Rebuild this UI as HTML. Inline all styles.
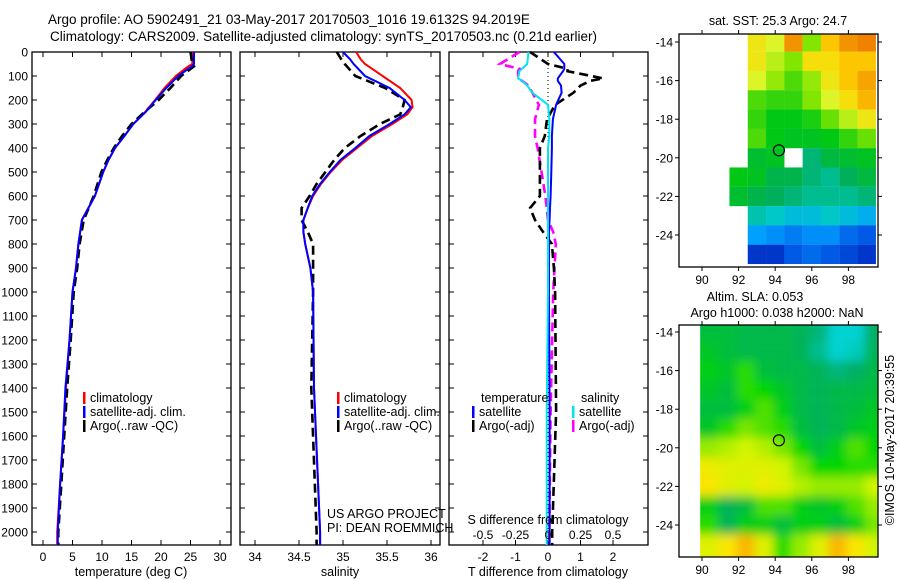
<!DOCTYPE html>
<html><head><meta charset="utf-8"><style>
html,body{margin:0;padding:0;background:#fff;}
svg{display:block;font-family:"Liberation Sans",sans-serif;}
</style></head><body>
<svg id="fig" width="900" height="580" viewBox="0 0 900 580">
<text x="48" y="24" font-size="13.5">Argo profile: AO 5902491_21 03-May-2017 20170503_1016 19.6132S 94.2019E</text>
<text x="50" y="41" font-size="13.5">Climatology: CARS2009. Satellite-adjusted climatology: synTS_20170503.nc (0.21d earlier)</text>
<g id="root"></g>
</svg>
<script>
// ---------- data ----------
const tDepth = [0,50,60,100,150,200,250,300,350,400,450,500,600,700,800,900,1000,1200,1400,1600,1800,2000,2054];
const tClim  = [25.3,25.3,24.6,22.5,20.6,19.0,17.3,15.3,13.8,12.2,11.1,10.2,8.8,6.6,6.0,5.6,5.0,4.5,3.9,3.4,2.9,2.4,2.4];
const tSat   = [25.6,25.6,25.2,22.9,20.9,19.1,17.4,15.3,13.8,12.2,11.1,10.2,8.8,6.6,6.0,5.6,5.0,4.5,3.8,3.4,2.9,2.5,2.5];
const tArgo  = [25.0,25.3,25.6,23.4,21.6,19.6,17.2,15.0,13.4,12.0,10.9,9.9,8.6,6.9,6.2,5.8,5.2,4.7,4.1,3.6,3.1,2.6,2.6];

const sDepth = [0,30,50,100,150,200,230,260,300,350,400,450,500,550,600,650,700,750,800,900,1000,1400,2000,2054];
const sClim  = [35.15,35.2,35.25,35.45,35.65,35.78,35.79,35.73,35.56,35.33,35.16,34.99,34.86,34.75,34.66,34.6,34.55,34.55,34.57,34.63,34.66,34.67,34.74,34.74];
const sSat   = [35.0,35.08,35.12,35.25,35.53,35.7,35.77,35.7,35.53,35.3,35.14,34.97,34.85,34.74,34.65,34.6,34.55,34.55,34.57,34.63,34.66,34.67,34.74,34.74];
const sArgo  = [34.93,34.98,35.02,35.14,35.48,35.7,35.68,35.65,35.42,35.2,35.02,34.9,34.8,34.7,34.62,34.53,34.53,34.6,34.66,34.66,34.66,34.64,34.7,34.7];

const dDepth   = [0,50,70,80,110,120,140,170,220,280,350,400,500,600,650,700,750,800,900,1000,1500,2000,2054];
const dTSat    = [0.18,0.5,0.5,0.46,0.3,0.3,0.4,0.42,0.25,0.15,0.12,0.12,0.1,0.08,0.06,0.05,0.03,0.03,0.03,0.03,0.05,0.05,0.05];
const dTArgo   = [-0.55,0.0,0.6,0.6,1.7,1.3,1.0,0.78,0.22,-0.03,-0.1,-0.25,-0.25,-0.25,-0.55,-0.4,-0.15,0.12,0.18,0.22,0.25,0.13,0.13];
const dSArgo   = [-0.22,-0.37,-0.22,-0.23,-0.23,-0.2,-0.15,-0.12,-0.07,-0.1,-0.1,-0.08,-0.05,-0.02,-0.01,0.0,0.04,0.06,0.05,0.04,0.02,0.01,0.01];
const dSSat    = [-0.15,-0.16,-0.2,-0.22,-0.23,-0.2,-0.16,-0.12,0.0,0.01,0.01,0.0,0.0,0.0,0.0,0.0,0.0,0.0,0.0,0.0,-0.01,-0.01,-0.01];

const depthTicks = [0,100,200,300,400,500,600,700,800,900,1000,1100,1200,1300,1400,1500,1600,1700,1800,1900,2000];
const tTicks = [0,5,10,15,20,25,30];
const sTicks = [34,34.5,35,35.5,36];
const sTickLabels = ["34","34.5","35","35.5","36"];
const dTTicks = [-2,-1,0,1,2];
const dSTicks = [-0.5,-0.25,0,0.25,0.5];
const dSTickLabels = ["-0.5","-0.25","0","0.25","0.5"];

const lonTicks = [90,92,94,96,98];
const latTicks = [-14,-16,-18,-20,-22,-24];
const sstLats = [-14,-15,-16,-17,-18,-19,-20,-21,-22,-23,-24,-25];
const sstLons = [89,90,91,92,93,94,95,96,97,98,99];
const sstGrid = [
 [null,null,null,null,25.2,25.0,25.8,24.5,25.5,25.8,25.9],
 [null,null,null,null,25.2,24.8,24.5,25.3,25.3,25.5,25.5],
 [null,null,null,null,25.0,24.6,24.3,24.6,25.2,25.5,25.7],
 [null,null,null,null,24.3,24.2,24.2,24.5,25.0,25.3,25.6],
 [null,null,null,null,24.2,24.0,24.0,24.1,24.4,24.8,25.2],
 [null,null,null,null,24.3,24.0,23.9,23.9,24.0,24.2,24.4],
 [null,null,null,null,23.8,23.9,null,23.4,23.7,23.8,23.9],
 [null,null,null,24.0,23.9,23.6,23.6,23.4,23.3,23.5,23.7],
 [null,null,null,23.8,23.6,23.5,23.4,23.3,23.3,23.3,23.4],
 [null,null,null,null,23.2,23.1,23.0,23.0,23.1,23.0,22.9],
 [null,null,null,null,22.8,22.7,22.6,22.7,22.7,22.5,22.4],
 [null,null,null,null,22.2,22.2,22.4,22.5,22.4,22.3,22.2]
];
const slaLons = [90.4,91.4,92.4,93.4,94.4,95.4,96.4,97.4,98.4,99.4];
const slaLats = [-14,-15,-16,-17,-18,-19,-20,-21,-22,-23,-24,-25];
const slaGrid = [
 [-0.02,-0.02,-0.03,-0.03,-0.03,-0.04,-0.06,-0.1,-0.1,-0.05],
 [-0.01,-0.02,-0.03,-0.03,-0.03,-0.04,-0.07,-0.1,-0.09,-0.04],
 [0,-0.01,0.02,-0.02,-0.03,-0.03,-0.04,-0.06,-0.05,-0.03],
 [-0.01,-0.02,0.02,0.01,-0.01,-0.03,-0.04,-0.03,-0.03,-0.02],
 [-0.02,-0.02,0.0,0.03,0.0,-0.03,-0.04,-0.03,-0.02,-0.01],
 [-0.01,0.02,0.04,0.03,0.02,-0.02,-0.04,-0.03,-0.01,0.0],
 [0.05,0.06,0.07,0.06,0.04,0.01,-0.02,0.0,0.03,0.01],
 [0.09,0.08,0.08,0.08,0.07,0.04,0.01,0.01,0.02,0.02],
 [0.1,0.08,0.07,0.09,0.08,0.06,0.05,0.05,0.05,0.07],
 [0.0,-0.04,-0.02,0.03,0.03,0.0,-0.01,0.0,0.03,0.05],
 [0.02,-0.04,0.0,0.0,-0.02,0.0,0.0,-0.02,0.0,0.04],
 [0.08,0.1,0.12,0.08,0.02,0.05,0.08,0.12,0.1,0.07]
];
const argoLon = 94.2019;
const argoLat = -19.6132;

// ---------- helpers ----------
const NS = "http://www.w3.org/2000/svg";
const root = document.getElementById("root");
function mk(tag, attrs, parent){ const e=document.createElementNS(NS,tag); for(const k in attrs) e.setAttribute(k,attrs[k]); (parent||root).appendChild(e); return e; }
function txt(x,y,s,size,anchor){ const e=mk("text",{x:x,y:y,"font-size":size,"text-anchor":anchor||"start"}); e.textContent=s; return e; }

const Y0=52, YB=545;
const yD = d => Y0 + 0.24*d;
const xT = t => 43 + 5.9*t;
const xS = s => 255 + 88*(s-34);
const xDT = t => 548 + 32.5*t;
const xDS = s => 548 + 130*s;

function frame(x0,x1,name){
  const r=mk("rect",{x:x0,y:Y0,width:x1-x0,height:YB-Y0,fill:"none",stroke:"#000","stroke-width":1.3});
  
  
  depthTicks.forEach(d=>{
    const t1=mk("line",{x1:x0,x2:x0+5,y1:yD(d),y2:yD(d),stroke:"#000"});
    
    
    const t2=mk("line",{x1:x1-5,x2:x1,y1:yD(d),y2:yD(d),stroke:"#000"});
    
    
  });
}
function xticks(vals,labels,fx,name){
  vals.forEach((v,i)=>{
    const a=mk("line",{x1:fx(v),x2:fx(v),y1:Y0,y2:Y0+5,stroke:"#000"});
    
    
    const b=mk("line",{x1:fx(v),x2:fx(v),y1:YB-5,y2:YB,stroke:"#000"});
    
    
    const l=txt(fx(v),561,labels?labels[i]:String(v),12,"middle");
    
    
  });
}
function series(vals,depths,fx,color,dash,name){
  const pts=vals.map((v,i)=>fx(v).toFixed(1)+","+yD(depths[i]).toFixed(1)).join(" ");
  const p=mk("polyline",{points:pts,fill:"none",stroke:color,"stroke-width":dash?2.6:2,"stroke-dasharray":dash?"9,5":"none"});
  
  
}
function legend(x,y,label,color,name){
  const b=mk("rect",{x:x,y:y-10,width:2.5,height:12,fill:color});
  
  
  const t=txt(x+7,y,label,12.5);
  
  
}

// ---------- panels ----------
frame(32,231,"temperature-panel");
frame(240,440,"salinity-panel");
frame(449,648,"difference-panel");
depthTicks.forEach(d=>{ const l=txt(28,yD(d)+4.5,String(d),12,"end");
  
   });
xticks(tTicks,null,xT,"temperature-axis");
xticks(sTicks,sTickLabels,xS,"salinity-axis");
xticks(dTTicks,null,xDT,"t-diff-axis");
{ const t=txt(131,576,"temperature (deg C)",12.5,"middle");   }
{ const t=txt(340,576,"salinity",12.5,"middle");   }
{ const t=txt(548,576,"T difference from climatology",12.5,"middle");   }

// zero dotted line
{ const z=mk("line",{x1:xDT(0),x2:xDT(0),y1:Y0,y2:YB,stroke:"#000","stroke-dasharray":"1,3"});   }

series(tClim,tDepth,xT,"#ff0000",false,"temperature-climatology-line");
series(tArgo,tDepth,xT,"#000",true,"temperature-argo-line");
series(tSat,tDepth,xT,"#0000ff",false,"temperature-satellite-line");
series(sClim,sDepth,xS,"#ff0000",false,"salinity-climatology-line");
series(sArgo,sDepth,xS,"#000",true,"salinity-argo-line");
series(sSat,sDepth,xS,"#0000ff",false,"salinity-satellite-line");
series(dSArgo,dDepth,xDS,"#ff00ff",true,"s-diff-argo-line");
series(dTArgo,dDepth,xDT,"#000",true,"t-diff-argo-line");
series(dTSat,dDepth,xDT,"#0000ff",false,"t-diff-satellite-line");
series(dSSat,dDepth,xDS,"#00e5ee",false,"s-diff-satellite-line");

legend(83,402,"climatology","#ff0000","legend-climatology");
legend(83,416,"satellite-adj. clim.","#0000ff","legend-satellite-adj");
legend(83,430,"Argo(..raw -QC)","#000","legend-argo");
legend(337,402,"climatology","#ff0000","legend2-climatology");
legend(337,416,"satellite-adj. clim.","#0000ff","legend2-satellite-adj");
legend(337,430,"Argo(..raw -QC)","#000","legend2-argo");
{ const t=txt(481,402,"temperature",12.5);   }
{ const t=txt(581,402,"salinity",12.5);   }
legend(472,416,"satellite","#0000ff","legend-t-satellite");
legend(472,430,"Argo(-adj)","#000","legend-t-argo");
legend(572,416,"satellite","#00e5ee","legend-s-satellite");
legend(572,430,"Argo(-adj)","#ff00ff","legend-s-argo");
{ const t=txt(327,518,"US ARGO PROJECT",12.5);   }
{ const t=txt(327,532,"PI: DEAN ROEMMICH",12.5);   }
{ const t=txt(548,524,"S difference from climatology",12.5,"middle");   }
dSTicks.forEach((v,i)=>{ const t=txt(xDS(v),539,dSTickLabels[i],12,"middle");
  
   });

// ---------- maps ----------
function lerpColor(stops,v){
  if(v<=stops[0][0]) return stops[0][1];
  for(let i=1;i<stops.length;i++){ if(v<=stops[i][0]){ const a=stops[i-1],b=stops[i],f=(v-a[0])/(b[0]-a[0]);
    const c=a[1].map((x,k)=>Math.round(x+(b[1][k]-x)*f)); return c; } }
  return stops[stops.length-1][1];
}
const sstStops=[[21.9,[0,0,160]],[22.4,[0,90,230]],[22.8,[0,160,255]],[23.1,[0,200,200]],[23.5,[0,175,90]],[24.0,[0,200,20]],[24.5,[130,230,0]],[25.0,[220,245,40]],[25.4,[255,215,0]],[25.9,[240,130,0]]];
const slaStops=[[-0.1,[0,210,210]],[-0.05,[0,175,100]],[-0.02,[0,190,60]],[0.01,[0,215,0]],[0.04,[120,230,0]],[0.07,[210,245,0]],[0.1,[250,230,0]],[0.13,[250,160,0]]];

const MX0=679, MX1=878;
const mxLon = lon => 702 + (lon-90)*18.3;
function mapFrame(y0,y1,yLat,name,prefix){
  const r=mk("rect",{x:MX0,y:y0,width:MX1-MX0,height:y1-y0,fill:"none",stroke:"#000","stroke-width":1.3});
  
  
  lonTicks.forEach(l=>{
    const a=mk("line",{x1:mxLon(l),x2:mxLon(l),y1:y0-4,y2:y0,stroke:"#000"});
    
    
    const b=mk("line",{x1:mxLon(l),x2:mxLon(l),y1:y1,y2:y1+4,stroke:"#000"});
    
    
    const t=txt(mxLon(l),y1+17,String(l),12,"middle");
    
    
  });
  latTicks.forEach(l=>{
    const a=mk("line",{x1:MX0-4,x2:MX0,y1:yLat(l),y2:yLat(l),stroke:"#000"});
    
    
    const b=mk("line",{x1:MX1,x2:MX1+4,y1:yLat(l),y2:yLat(l),stroke:"#000"});
    
    
    const t=txt(MX0-6,yLat(l)+4.5,String(l),12,"end");
    
    
  });
}
// SST map
const TY0=34, TY1=267;
const yLatT = lat => 42 + (-14-lat)*19.3;
const defs=mk("defs",{});
const cp1=mk("clipPath",{id:"clipT"},defs); mk("rect",{x:MX0,y:TY0,width:MX1-MX0,height:TY1-TY0},cp1);
const gT=mk("g",{"clip-path":"url(#clipT)"});


sstGrid.forEach((row,i)=>row.forEach((v,j)=>{
  if(v===null) return;
  const c=lerpColor(sstStops,v);
  const r=mk("rect",{x:mxLon(sstLons[j]-0.5),y:yLatT(sstLats[i]+0.5),width:18.4,height:19.4,fill:"rgb("+c.join(",")+")"},gT);
  
  
}));
mapFrame(TY0,TY1,yLatT,"sst-map-frame","sst");
{ const c=mk("circle",{cx:mxLon(argoLon),cy:yLatT(argoLat),r:5.5,fill:"none",stroke:"#000","stroke-width":1.2});   }
{ const t=txt(778,25,"sat. SST: 25.3 Argo: 24.7",12.5,"middle");   }

// SLA map
const BY0=325, BY1=557;
const yLatB = lat => 332 + (-14-lat)*19.3;
const cp2=mk("clipPath",{id:"clipB"},defs); mk("rect",{x:mxLon(89.9),y:BY0,width:MX1-mxLon(89.9),height:BY1-BY0},cp2);
const flt=mk("filter",{id:"blurB",x:"-10%",y:"-10%",width:"120%",height:"120%"},defs); mk("feGaussianBlur",{stdDeviation:5},flt);
const gB0=mk("g",{"clip-path":"url(#clipB)"});


const gB=mk("g",{filter:"url(#blurB)"},gB0);
slaGrid.forEach((row,i)=>row.forEach((v,j)=>{
  const c=lerpColor(slaStops,v);
  let x=mxLon(slaLons[j]-0.5), w=18.4, y=yLatB(slaLats[i]+0.5), h=19.4;
  if(j===0){ x-=20; w+=20; } if(j===row.length-1){ w+=20; }
  if(i===0){ y-=20; h+=20; } if(i===slaGrid.length-1){ h+=20; }
  const r=mk("rect",{x:x,y:y,width:w,height:h,fill:"rgb("+c.join(",")+")"},gB);
  
  
}));
mapFrame(BY0,BY1,yLatB,"sla-map-frame","sla");
{ const c=mk("circle",{cx:mxLon(argoLon),cy:yLatB(argoLat),r:5.5,fill:"none",stroke:"#000","stroke-width":1.2});   }
{ const t=txt(755,301,"Altim. SLA: 0.053",12.5,"middle");   }
{ const t=txt(777,317,"Argo h1000: 0.038 h2000: NaN",12.5,"middle");   }
{ const t=txt(0,0,"©IMOS 10-May-2017 20:39:55",12.5,"middle"); t.setAttribute("transform","translate(894,440) rotate(-90)");
    }
</script>
</body></html>
